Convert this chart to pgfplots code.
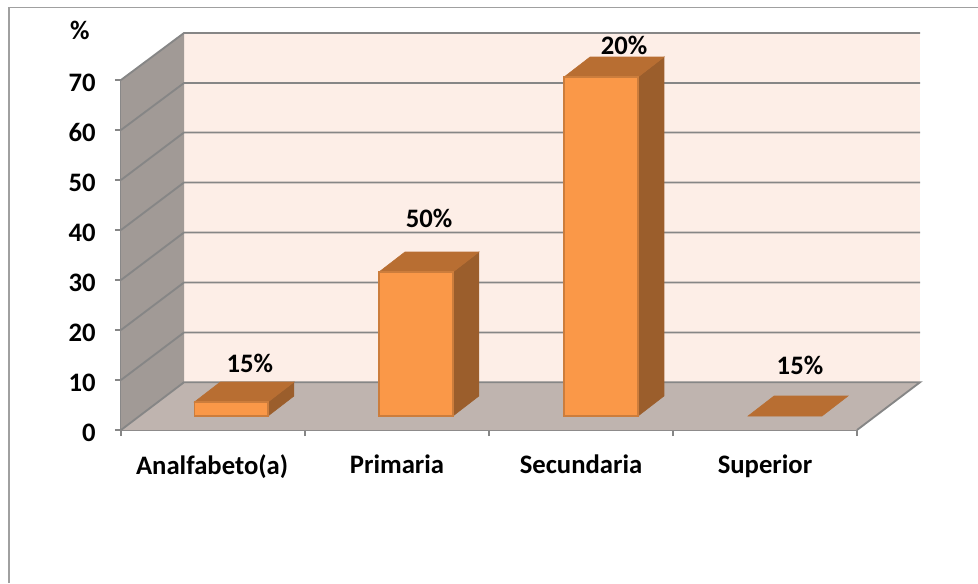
\documentclass[border=0pt]{standalone}
\usepackage{pgfplots}
\pgfplotsset{compat=1.18}
\usepackage{fontspec}
\setmainfont{Carlito}
\definecolor{wallback}{RGB}{253,238,231}
\definecolor{wallside}{RGB}{161,154,150}
\definecolor{floorc}{RGB}{191,180,175}
\definecolor{gridc}{RGB}{134,134,134}
\definecolor{framec}{RGB}{160,160,160}
\definecolor{barfront}{RGB}{250,152,72}
\definecolor{bartop}{RGB}{184,110,50}
\definecolor{barside}{RGB}{155,94,44}
\definecolor{baredge}{RGB}{204,125,60}
\begin{document}
\begin{tikzpicture}
\begin{axis}[
  scale only axis, width=552pt, height=262.5pt,
  xmin=0, xmax=4, ymin=0, ymax=70,
  clip=false, axis lines=left,
  axis line style={-, draw=gridc, line width=1.4pt},
  tick style={draw=gridc, line width=1.2pt},
  tick align=outside, major tick length=4.5pt,
  xtick={0,1,2,3,4}, xticklabels={},
  extra x ticks={0.495,1.5,2.5,3.5},
  extra x tick labels={Analfabeto(a),Primaria,Secundaria,Superior},
  extra x tick style={major tick length=0pt, tick style={draw=none},
    xticklabel style={yshift=-15pt}},
  ytick={0,10,20,30,40,50,60,70},
  yticklabel style={xshift=-11pt, yshift=-2.2pt},
  /pgf/number format/assume math mode=true,
  tick label style={font=\fontsize{20}{22}\selectfont\bfseries, text=black},
]
% invisible extent of the whole picture
\path[use as bounding box] (axis cs:-0.6576,-30.6) rectangle (axis cs:4.6576,86);
% outer frame
\addplot[draw=framec, line width=1.4pt, forget plot] coordinates {(-0.6087,-30.6) (-0.6087,84.5) (4.6576,84.5)};
% walls and floor
\addplot[fill=wallback, draw=none, forget plot] coordinates {(0.3424,9.55) (4.3424,9.55) (4.3424,79.4) (0.3424,79.4)} --cycle;
\addplot[fill=wallside, draw=none, forget plot] coordinates {(0,0) (0.3424,9.55) (0.3424,79.4) (0,70)} --cycle;
\addplot[fill=floorc, draw=none, forget plot] coordinates {(0,0) (4,0) (4.3424,9.55) (0.3424,9.55)} --cycle;
% grid lines
\addplot[gridc, line width=1.4pt, forget plot] coordinates {(0,0) (0.3424,9.55) (4.3424,9.55) (4,0)};
\addplot[gridc, line width=1.4pt, forget plot] coordinates {(0,10) (0.3424,19.5) (4.3424,19.5)};
\addplot[gridc, line width=1.4pt, forget plot] coordinates {(0,20) (0.3424,29.5) (4.3424,29.5)};
\addplot[gridc, line width=1.4pt, forget plot] coordinates {(0,30) (0.3424,39.5) (4.3424,39.5)};
\addplot[gridc, line width=1.4pt, forget plot] coordinates {(0,40) (0.3424,49.5) (4.3424,49.5)};
\addplot[gridc, line width=1.4pt, forget plot] coordinates {(0,50) (0.3424,59.5) (4.3424,59.5)};
\addplot[gridc, line width=1.4pt, forget plot] coordinates {(0,60) (0.3424,69.4) (4.3424,69.4)};
\addplot[gridc, line width=1.4pt, forget plot] coordinates {(0,70) (0.3424,79.4) (4.3424,79.4)};
% Bar 1: Analfabeto(a)
\addplot[fill=barside, draw=barside, line width=.4pt, forget plot] coordinates {(0.799,2.8) (0.94,6.8) (0.94,9.6) (0.799,5.6)} --cycle;
\addplot[fill=bartop, draw=bartop, line width=.4pt, forget plot] coordinates {(0.399,5.6) (0.799,5.6) (0.94,9.6) (0.54,9.6)} --cycle;
\addplot[fill=barfront, draw=baredge, line width=.9pt, forget plot] coordinates {(0.399,2.8) (0.799,2.8) (0.799,5.6) (0.399,5.6)} --cycle;
% Bar 2: Primaria
\addplot[fill=barside, draw=barside, line width=.4pt, forget plot] coordinates {(1.804,2.8) (1.945,6.8) (1.945,35.6) (1.804,31.6)} --cycle;
\addplot[fill=bartop, draw=bartop, line width=.4pt, forget plot] coordinates {(1.402,31.6) (1.804,31.6) (1.945,35.6) (1.543,35.6)} --cycle;
\addplot[fill=barfront, draw=baredge, line width=.9pt, forget plot] coordinates {(1.402,2.8) (1.804,2.8) (1.804,31.6) (1.402,31.6)} --cycle;
% Bar 3: Secundaria
\addplot[fill=barside, draw=barside, line width=.4pt, forget plot] coordinates {(2.81,2.8) (2.951,6.8) (2.951,74.6) (2.81,70.6)} --cycle;
\addplot[fill=bartop, draw=bartop, line width=.4pt, forget plot] coordinates {(2.408,70.6) (2.81,70.6) (2.951,74.6) (2.549,74.6)} --cycle;
\addplot[fill=barfront, draw=baredge, line width=.9pt, forget plot] coordinates {(2.408,2.8) (2.81,2.8) (2.81,70.6) (2.408,70.6)} --cycle;
% Bar 4: Superior
\addplot[fill=bartop, draw=bartop, line width=.4pt, forget plot] coordinates {(3.408,2.8) (3.81,2.8) (3.951,6.8) (3.549,6.8)} --cycle;
% labels
\tikzset{lab/.style={font=\fontsize{20}{22}\selectfont\bfseries, text=black, inner sep=0pt}}
\node[lab] at (axis cs:-0.223,80) {\%};
\node[lab] at (axis cs:0.70,13.4) {15\%};
\node[lab] at (axis cs:1.674,42.4) {50\%};
\node[lab] at (axis cs:2.734,77) {20\%};
\node[lab] at (axis cs:3.69,13) {15\%};
\end{axis}
\end{tikzpicture}
\end{document}
